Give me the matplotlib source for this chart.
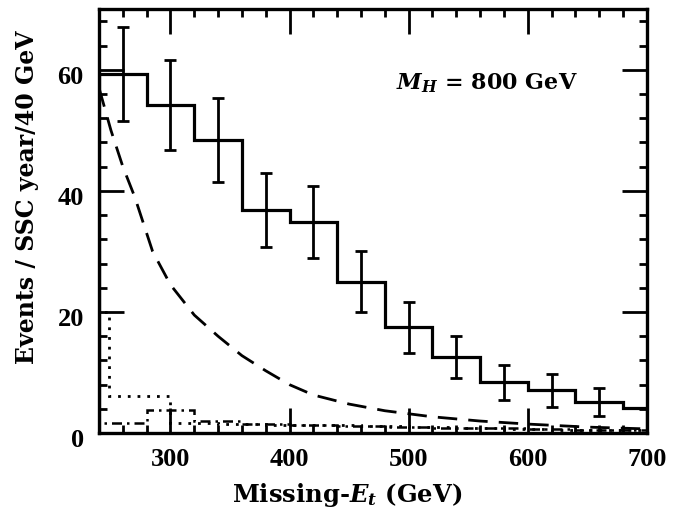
import matplotlib.pyplot as plt
import matplotlib.transforms as mtransforms
import numpy as np

plt.rcParams['font.family'] = 'DejaVu Serif'
plt.rcParams['font.weight'] = 'bold'
plt.rcParams['mathtext.fontset'] = 'custom'
plt.rcParams['mathtext.rm'] = 'DejaVu Serif:bold'
plt.rcParams['mathtext.it'] = 'DejaVu Serif:italic:bold'

# signal + background histogram, 40 GeV bins
edges = [240, 280, 320, 360, 400, 440, 480, 520, 560, 600, 640, 680, 700]
counts = [59.3, 54.2, 48.4, 36.8, 34.9, 25.0, 17.5, 12.6, 8.4, 7.1, 5.1, 4.1]
centers = [260, 300, 340, 380, 420, 460, 500, 540, 580, 620, 660]
errors = [7.7, 7.4, 7.0, 6.1, 5.9, 5.0, 4.2, 3.5, 2.9, 2.7, 2.3]

# long-dashed background curve
curve_x = [240, 250, 260, 270, 285, 300, 320, 340, 360, 380, 400, 420, 450, 480, 520, 560, 600, 650, 700]
curve_y = [57, 50, 44, 39, 30, 24.5, 19.5, 16, 12.8, 10.3, 8, 6.3, 4.8, 3.7, 2.7, 2.0, 1.5, 1.0, 0.7]

# dotted background histogram
dot_edges = [240, 248, 300, 340, 380, 420, 460, 500, 540, 580, 620, 660, 700]
dot_vals = [20, 6.2, 1.7, 1.5, 1.4, 1.3, 1.2, 1.0, 0.8, 0.7, 0.6, 0.5]

# dash-dotted background histogram
dd_edges = [240, 280, 320, 360, 400, 440, 480, 520, 560, 600, 640, 680, 700]
dd_vals = [1.7, 3.8, 2.0, 1.5, 1.3, 1.1, 1.0, 0.9, 0.8, 0.7, 0.6, 0.5]

fig = plt.figure(figsize=(6.83, 5.12), dpi=100)
ax = fig.add_axes([0.145, 0.154, 0.802, 0.828])

ax.stairs(counts, edges, color='black', lw=2.3)
ax.errorbar(centers, counts[:len(centers)], yerr=errors, fmt='none',
            ecolor='black', elinewidth=2.0, capsize=4, capthick=2.0)
ax.plot(curve_x, curve_y, color='black', lw=2.0, dashes=(7, 4))
ax.stairs(dot_vals, dot_edges, color='black', lw=2.0, linestyle=(0, (1, 2.5)))
ax.stairs(dd_vals, dd_edges, color='black', lw=1.8, linestyle=(0, (4, 2, 1, 2)))

ax.text(489, 57.8, r'$M_H$ = 800 GeV', fontsize=16, fontweight='bold', va='center')

ax.set_xlim(240, 700)
ax.set_ylim(0, 70)
ax.set_xticks([300, 400, 500, 600, 700])
ax.set_xticks(np.arange(240, 701, 20), minor=True)
ax.set_yticks([0, 20, 40, 60])
ax.set_yticks(np.arange(0, 71, 4), minor=True)
ax.tick_params(which='both', direction='in', top=True, right=True, width=2)
ax.tick_params(axis='x', pad=11)
ax.tick_params(axis='y', pad=11)
ax.tick_params(which='major', length=18)
ax.tick_params(which='minor', length=6)
for lab in ax.get_xticklabels() + ax.get_yticklabels():
    lab.set_fontfamily('Liberation Serif')
    lab.set_fontsize(19)
    lab.set_fontweight('bold')
# y tick labels sit a little below their ticks
shift = mtransforms.ScaledTranslation(0, -5 / 100, fig.dpi_scale_trans)
for lab in ax.get_yticklabels():
    lab.set_transform(lab.get_transform() + shift)
for s in ax.spines.values():
    s.set_linewidth(2.4)

ax.set_xlabel(r'Missing-$E_t$ (GeV)', fontsize=17.5, fontweight='bold', va='center', ha='center')
ax.set_ylabel('Events / SSC year/40 GeV', fontsize=17, fontweight='bold', va='center', ha='center')
ax.xaxis.set_label_coords(0.453, -0.146)
ax.yaxis.set_label_coords(-0.131, 0.557)

fig.savefig('out.png', dpi=100)
